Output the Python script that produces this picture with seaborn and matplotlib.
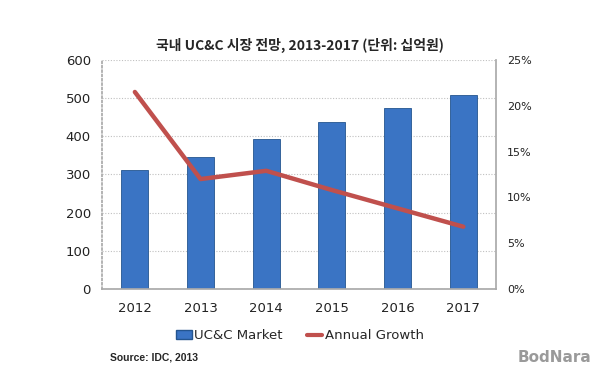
import matplotlib
matplotlib.use("Agg")
import matplotlib.pyplot as plt
import numpy as np
import pandas as pd
import seaborn as sns
from matplotlib.lines import Line2D
from matplotlib.patches import Patch
from matplotlib.ticker import FuncFormatter, MultipleLocator

years = ["2012", "2013", "2014", "2015", "2016", "2017"]
market = [311, 347, 392, 437, 474, 507]
growth = [21.5, 12.0, 12.9, 10.8, 8.8, 6.8]

title = "국내 UC&C 시장 전망, 2013-2017 (단위: 십억원)"
source = "Source: IDC, 2013"

sns.set_theme(style="white")
plt.rcParams["font.family"] = ["DejaVu Sans", "Noto Sans CJK KR"]

df = pd.DataFrame({"year": years, "market": market, "growth": growth})
df["pos"] = np.arange(len(df))

fig = plt.figure(figsize=(6, 3.72), dpi=100)
ax = fig.add_axes([0.17, 0.223, 0.657, 0.616])

bar_color = "#3a74c4"
line_color = "#c0504d"

sns.barplot(data=df, x="year", y="market", color=bar_color, width=0.41,
            saturation=1, edgecolor="#24558f", linewidth=0.6, ax=ax)
ax.set_ylim(0, 600)
ax.set_xlim(-0.5, len(years) - 0.5)
ax.yaxis.set_major_locator(MultipleLocator(100))
ax.grid(axis="y", color="#c0c0c0", linestyle=(0, (1, 1.5)), linewidth=0.8)
ax.set_axisbelow(True)
ax.set_xlabel("")
ax.set_ylabel("")
ax.tick_params(axis="y", labelsize=9.5, length=0, pad=8, colors="#222222")
ax.tick_params(axis="x", which="major", labelsize=9.5, length=0, pad=9, colors="#222222")
ax.set_xticks(np.arange(-0.5, len(years)), minor=True)
ax.tick_params(axis="x", which="minor", length=4, color="#aaaaaa")
for side in ["top", "right"]:
    ax.spines[side].set_visible(False)
ax.spines["left"].set_color("#aaaaaa")
ax.spines["left"].set_linestyle((0, (1, 1.5)))
ax.spines["bottom"].set_color("#aaaaaa")

ax2 = ax.twinx()
sns.lineplot(data=df, x="pos", y="growth", color=line_color, linewidth=3.2,
             ax=ax2, legend=False)
ax2.set_ylim(0, 25)
ax2.set_xlim(-0.5, len(years) - 0.5)
ax2.yaxis.set_major_locator(MultipleLocator(5))
ax2.yaxis.set_major_formatter(FuncFormatter(lambda v, p: f"{v:.0f}%"))
ax2.tick_params(axis="y", labelsize=8, length=0, pad=8, colors="#222222")
ax2.set_ylabel("")
ax2.set_xlabel("")
ax2.grid(False)
for side in ["top", "left", "bottom"]:
    ax2.spines[side].set_visible(False)
ax2.spines["right"].set_color("#aaaaaa")

fig.text(0.5, 0.878, title, ha="center", va="center", fontsize=10,
         fontweight="bold", family=["Noto Sans CJK KR", "DejaVu Sans"])

handles = [Patch(facecolor=bar_color, edgecolor="#24558f", label="UC&C Market"),
           Line2D([0], [0], color=line_color, linewidth=3, label="Annual Growth")]
fig.legend(handles=handles, loc="center", bbox_to_anchor=(0.5, 0.097), ncol=2,
           frameon=False, fontsize=9.5, handlelength=1.2, handletextpad=0.2,
           columnspacing=1.8)

fig.text(0.183, 0.04, source, ha="left", va="center", fontsize=7.5,
         fontweight="bold", family=["Liberation Sans", "DejaVu Sans"])
fig.text(0.985, 0.04, "BodNara", ha="right", va="center", fontsize=11,
         fontweight="bold", color="#9a9a9a")

fig.savefig("out.png", dpi=100)
